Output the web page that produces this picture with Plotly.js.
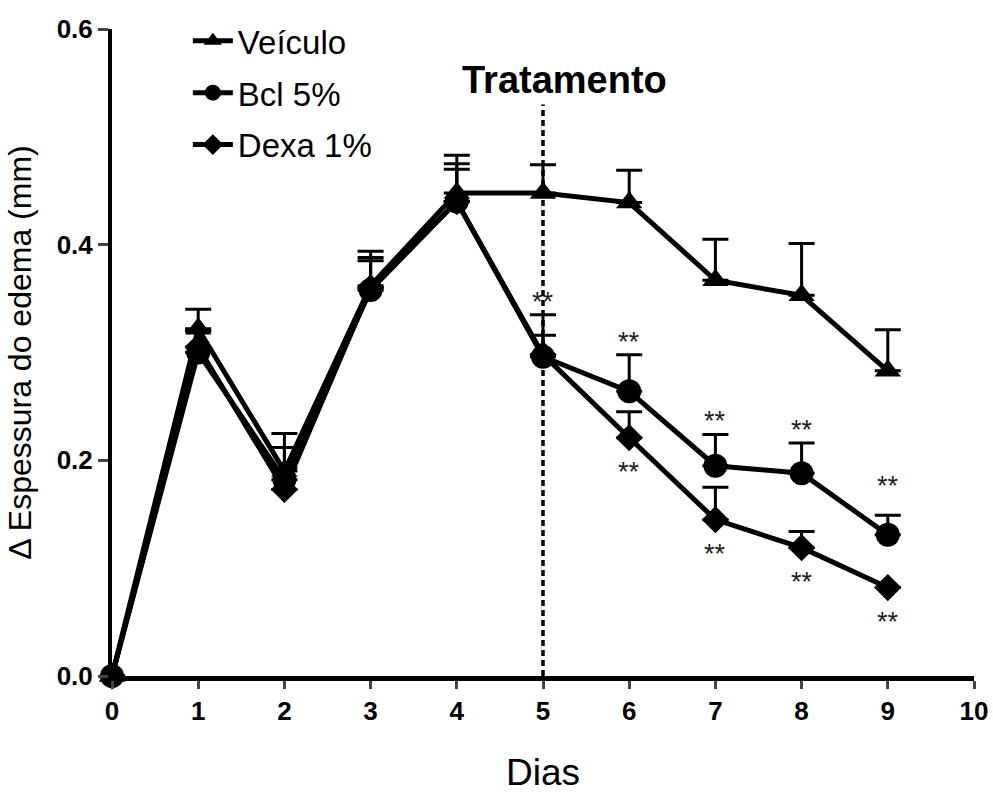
<!DOCTYPE html>
<html><head><meta charset="utf-8">
<script src="https://cdn.plot.ly/plotly-3.0.1.min.js"></script>
<style>html,body{margin:0;padding:0;background:#fff}#chart{width:993px;height:793px}</style>
</head><body><div id="chart"></div>
<script>
const dias = [0,1,2,3,4,5,6,7,8,9];
const veiculo = [0,0.322,0.19,0.362,0.448,0.448,0.439,0.367,0.353,0.283];
const veiculoErr = [0,0.018,0.035,0.032,0.035,0.026,0.03,0.038,0.048,0.038];
const bcl = [0,0.300,0.182,0.358,0.440,0.296,0.264,0.195,0.188,0.131];
const bclErr = [0,0.02,0.03,0.03,0.03,0.02,0.034,0.029,0.028,0.018];
const dexa = [0,0.305,0.173,0.360,0.440,0.298,0.221,0.145,0.119,0.082];
const dexaErr = [0,0.015,0.02,0.025,0.035,0.037,0.024,0.03,0.015,0];
const starsAbove = [5,6,7,8,9];   // ** above Bcl 5%
const starsBelow = [6,7,8,9];     // ** below Dexa 1%
const names = ['Veículo','Bcl 5%','Dexa 1%'];

const FONT = 'Liberation Sans, Arial, sans-serif';
function errSpec(arr){return {type:'data',symmetric:false,array:arr,arrayminus:arr.map(()=>0),color:'#000',thickness:3,width:13};}
const traces = [
  {x:dias,y:veiculo,name:names[0],legendgroup:'a',mode:'lines+markers',line:{color:'#000',width:5},
   marker:{symbol:'triangle-up',size:23,color:'#000'},error_y:errSpec(veiculoErr),cliponaxis:false},
  {x:dias,y:bcl,name:names[1],legendgroup:'b',mode:'lines+markers',line:{color:'#000',width:5},
   marker:{symbol:'circle',size:24,color:'#000'},error_y:errSpec(bclErr),cliponaxis:false},
  {x:dias,y:dexa,name:names[2],legendgroup:'c',mode:'lines+markers',line:{color:'#000',width:5},
   marker:{symbol:'diamond',size:21,color:'#000'},error_y:errSpec(dexaErr),cliponaxis:false}
];

const annotations = [];
const starFont = {family:FONT,size:27,color:'#222'};
starsAbove.forEach(d=>{const i=dias.indexOf(d);
  const top=Math.max(bcl[i]+bclErr[i], d===5 ? dexa[i]+dexaErr[i] : 0);
  annotations.push({x:d,y:top,text:'**',showarrow:false,yanchor:'bottom',yshift:(d===9?12:-4),font:starFont});});
starsBelow.forEach(d=>{const i=dias.indexOf(d);annotations.push({x:d,y:dexa[i],text:'**',showarrow:false,yanchor:'top',yshift:-17,font:starFont});});
annotations.push({x:5.25,y:0.553,text:'<b>Tratamento</b>',showarrow:false,font:{family:FONT,size:38,color:'#000'}});

const layout = {
  width:993,height:793,
  margin:{l:112,r:19,t:29,b:117},
  paper_bgcolor:'#fff',plot_bgcolor:'#fff',
  font:{family:FONT,color:'#000'},
  showlegend:true,
  legend:{x:0.088,y:1.025,xanchor:'left',yanchor:'top',font:{family:FONT,size:33,color:'#000'},
    tracegroupgap:6,bgcolor:'rgba(0,0,0,0)',itemwidth:40},
  xaxis:{range:[0,10],tickvals:[0,1,2,3,4,5,6,7,8,9,10],ticks:'outside',ticklen:8,tickwidth:3,
    showline:true,linewidth:5,linecolor:'#000',showgrid:false,zeroline:false,
    tickfont:{family:FONT,size:26,color:'#000',weight:'bold'},
    title:{text:'Dias',font:{family:FONT,size:37,color:'#000'},standoff:37}},
  yaxis:{range:[0,0.6],tickvals:[0,0.2,0.4,0.6],ticktext:['0.0','0.2','0.4','0.6'],ticks:'outside',ticklen:10,tickwidth:3,
    showline:true,linewidth:4,linecolor:'#000',showgrid:false,zeroline:false,
    tickfont:{family:FONT,size:26,color:'#000',weight:'bold'},
    title:{text:'Δ Espessura do edema (mm)',font:{family:FONT,size:32,color:'#000'},standoff:16}},
  shapes:[{type:'line',xref:'x',yref:'y',x0:5,x1:5,y0:0,y1:0.53,line:{color:'#000',width:3.5,dash:'6px,4px'}}],
  annotations:annotations
};
Plotly.newPlot('chart',traces,layout,{displayModeBar:false});
</script></body></html>
